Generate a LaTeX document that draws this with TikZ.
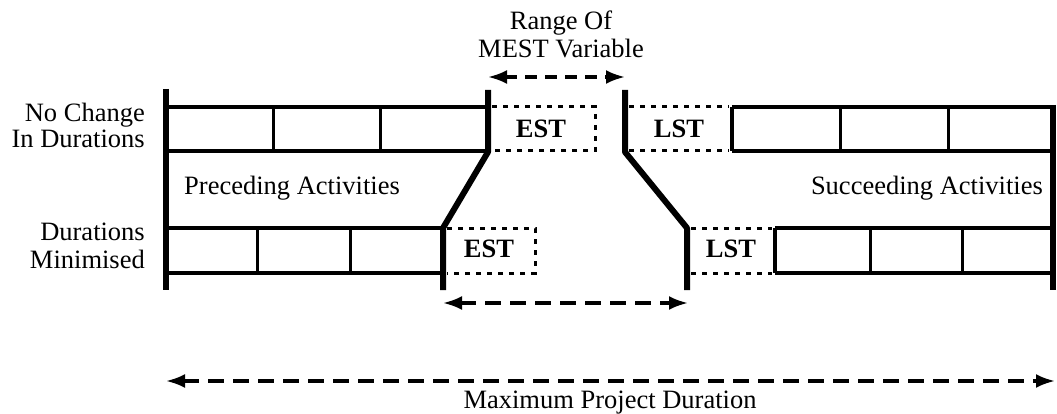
\documentclass[tikz,border=0pt]{standalone}
\usepackage{fontspec}
\setmainfont{Liberation Serif}
\usetikzlibrary{arrows.meta}
\begin{document}
\begin{tikzpicture}[x=1pt,y=-1pt,
  bar/.style={line width=6pt, line join=round},
  rowline/.style={line width=3.2pt},
  cellsep/.style={line width=3pt},
  celledge/.style={line width=4.5pt},
  dotbox/.style={line width=3pt, dash pattern=on 5pt off 6pt},
  dimarrow/.style={line width=3.2pt, dash pattern=on 16pt off 9pt,
    {Latex[length=19pt,width=14pt]}-{Latex[length=19pt,width=14pt]}},
  lbl/.style={font=\fontsize{26.5}{27}\selectfont, inner sep=0pt},
  tag/.style={font=\fontsize{26.5}{27}\selectfont\bfseries, inner sep=0pt},
]
\useasboundingbox (0,0) rectangle (1057,414);

% ---- outer bars
\draw[bar] (166,89) -- (166,290);
\draw[bar] (1053,105) -- (1053,290);

% ---- moving boundary bars (EST side and LST side)
\draw[bar] (488,90) -- (488,152) -- (443,228) -- (443,290);
\draw[bar] (625,90) -- (625,152) -- (687,228) -- (687,290);

% ---- top-left row (no change)
\draw[rowline] (166,107) -- (488,107) (166,151) -- (488,151);
\draw[cellsep] (273,107) -- (273,151) (380,107) -- (380,151);

% ---- bottom-left row (minimised)
\draw[rowline] (166,228) -- (443,228) (166,273) -- (443,273);
\draw[cellsep] (257,228) -- (257,273) (350,228) -- (350,273);

% ---- top-right row
\draw[rowline] (732,107) -- (1053,107) (732,151) -- (1053,151);
\draw[celledge] (732,107) -- (732,151);
\draw[cellsep] (840,107) -- (840,151) (948,107) -- (948,151);

% ---- bottom-right row
\draw[rowline] (775,228) -- (1053,228) (775,273) -- (1053,273);
\draw[celledge] (775,228) -- (775,273);
\draw[cellsep] (870,228) -- (870,273) (962,228) -- (962,273);

% ---- dotted EST / LST boxes
\draw[dotbox] (492,107) -- (595,107) -- (595,151) -- (492,151);
\draw[dotbox] (629,107) -- (729,107) (629,151) -- (729,151);
\draw[dotbox] (447,228) -- (535,228) -- (535,273) -- (447,273);
\draw[dotbox] (691,228) -- (772,228) (691,273) -- (772,273);

\node[tag] (est1) at (541,129) {EST};
\node[tag] (lst1) at (679,129) {LST};
\node[tag] (est2) at (489,249) {EST};
\node[tag] (lst2) at (731,249) {LST};

% ---- labels (base anchor of a multi-line node = last line's baseline)
\node[lbl, anchor=base east, align=right, font=\fontsize{26.5}{26}\selectfont] (nochange) at (145,148) {No Change\\In Durations};
\node[lbl, anchor=base east, align=right, font=\fontsize{26.5}{28}\selectfont] (minim) at (145,268) {Durations\\Minimised};
\node[lbl, anchor=base west] (prec) at (184,195) {Preceding Activities};
\node[lbl, anchor=base east] (succ) at (1043,195) {Succeeding Activities};
\node[lbl, anchor=base, align=center, font=\fontsize{26.5}{28}\selectfont] (range) at (561,58) {Range Of\\MEST Variable};
\node[lbl, anchor=base] (maxd) at (610,408) {Maximum Project Duration};

% ---- dimension arrows
\coordinate (ra) at (488,77);
\coordinate (rb) at (625,77);
\coordinate (ma) at (443,303);
\coordinate (mb) at (688,303);
\coordinate (xa) at (166,381);
\coordinate (xb) at (1055,381);
\draw[dimarrow, dash pattern=on 12pt off 8pt] (ra) -- (rb);
\draw[dimarrow] (ma) -- (mb);
\draw[dimarrow] (xa) -- (xb);
\end{tikzpicture}
\end{document}
